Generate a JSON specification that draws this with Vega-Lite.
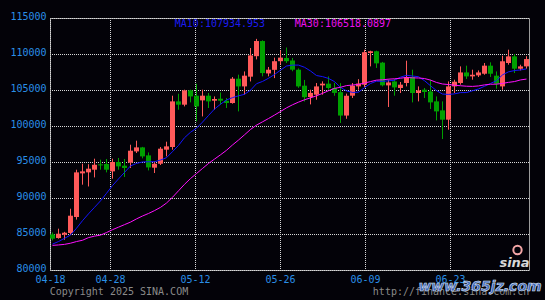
{
  "$schema": "https://vega.github.io/schema/vega-lite/v6.json",
  "width": 479,
  "height": 252,
  "autosize": {"type": "none"},
  "padding": {"left": 50, "top": 18, "right": 16, "bottom": 30},
  "background": "#030208",
  "config": {
    "view": {"stroke": "#9c9c9c", "strokeWidth": 1},
    "scale": {"continuousPadding": 0},
    "axis": {
      "domain": false, "ticks": false, "tickSize": 0, "grid": true,
      "gridColor": "#d8d8d8", "gridDash": [1, 1], "gridDashOffset": 0.5, "gridWidth": 1, "gridOpacity": 1,
      "labelColor": "#2a8fe6", "labelFont": "DejaVu Sans Mono", "labelFontSize": 10,
      "labelFlush": false, "labelOverlap": false, "labelBound": false
    }
  },
  "data": {"values": [
    {"d":"2025/04/18","o":84950,"h":85220,"l":84110,"c":84350,"m10":83600,"m30":83420},
    {"d":"2025/04/19","o":84440,"h":85740,"l":84350,"c":85040,"m10":83950,"m30":83480},
    {"d":"2025/04/20","o":84900,"h":85300,"l":84200,"c":85180,"m10":84400,"m30":83560},
    {"d":"2025/04/21","o":85140,"h":88510,"l":84900,"c":87540,"m10":84850,"m30":83720},
    {"d":"2025/04/22","o":87360,"h":93930,"l":87000,"c":93560,"m10":85800,"m30":83950},
    {"d":"2025/04/23","o":93420,"h":94760,"l":91850,"c":93700,"m10":86850,"m30":84130},
    {"d":"2025/04/24","o":93560,"h":94700,"l":91600,"c":94070,"m10":87800,"m30":84500},
    {"d":"2025/04/25","o":93930,"h":95460,"l":92860,"c":94620,"m10":88700,"m30":84700},
    {"d":"2025/04/26","o":94670,"h":95320,"l":93930,"c":94530,"m10":89600,"m30":84850},
    {"d":"2025/04/27","o":94720,"h":95420,"l":93560,"c":93930,"m10":90652,"m30":85200},
    {"d":"2025/04/28","o":93700,"h":95460,"l":92680,"c":95000,"m10":91717,"m30":85600},
    {"d":"2025/04/29","o":95000,"h":95560,"l":93930,"c":94390,"m10":92652,"m30":85950},
    {"d":"2025/04/30","o":94490,"h":95420,"l":92920,"c":94170,"m10":93551,"m30":86300},
    {"d":"2025/05/01","o":94900,"h":97400,"l":94170,"c":96570,"m10":94454,"m30":86650},
    {"d":"2025/05/02","o":96470,"h":97960,"l":96250,"c":97030,"m10":94801,"m30":87100},
    {"d":"2025/05/03","o":97030,"h":97100,"l":95500,"c":95780,"m10":95009,"m30":87500},
    {"d":"2025/05/04","o":95920,"h":96330,"l":93830,"c":94250,"m10":95027,"m30":87850},
    {"d":"2025/05/05","o":94210,"h":95080,"l":93470,"c":94760,"m10":95041,"m30":88250},
    {"d":"2025/05/06","o":94760,"h":97080,"l":94580,"c":96850,"m10":95273,"m30":88700},
    {"d":"2025/05/07","o":96710,"h":97820,"l":95780,"c":97170,"m10":95597,"m30":89300},
    {"d":"2025/05/08","o":97080,"h":104210,"l":96710,"c":103420,"m10":96439,"m30":90100},
    {"d":"2025/05/09","o":103420,"h":104490,"l":102260,"c":102960,"m10":97296,"m30":91000},
    {"d":"2025/05/10","o":102960,"h":105040,"l":102720,"c":104950,"m10":98374,"m30":91900},
    {"d":"2025/05/11","o":104950,"h":105040,"l":103280,"c":104110,"m10":99128,"m30":92700},
    {"d":"2025/05/12","o":104210,"h":105870,"l":100640,"c":102720,"m10":99697,"m30":93400},
    {"d":"2025/05/13","o":103560,"h":105040,"l":101330,"c":104210,"m10":100540,"m30":94100},
    {"d":"2025/05/14","o":104210,"h":104580,"l":102500,"c":103420,"m10":101457,"m30":94800},
    {"d":"2025/05/15","o":103510,"h":104110,"l":102260,"c":103750,"m10":102356,"m30":95400},
    {"d":"2025/05/16","o":103790,"h":104670,"l":102960,"c":103510,"m10":103022,"m30":96000},
    {"d":"2025/05/17","o":103510,"h":103890,"l":102500,"c":103190,"m10":103624,"m30":96624},
    {"d":"2025/05/18","o":103190,"h":106800,"l":103100,"c":106570,"m10":103939,"m30":97365},
    {"d":"2025/05/19","o":106570,"h":107130,"l":102030,"c":105500,"m10":104193,"m30":98047},
    {"d":"2025/05/20","o":105500,"h":107580,"l":104350,"c":106990,"m10":104397,"m30":98774},
    {"d":"2025/05/21","o":106850,"h":110830,"l":106190,"c":109800,"m10":104966,"m30":99516},
    {"d":"2025/05/22","o":109700,"h":112100,"l":109250,"c":111800,"m10":105874,"m30":100124},
    {"d":"2025/05/23","o":111800,"h":111900,"l":106900,"c":107350,"m10":106188,"m30":100579},
    {"d":"2025/05/24","o":107300,"h":108200,"l":106900,"c":107820,"m10":106628,"m30":101037},
    {"d":"2025/05/25","o":107800,"h":109500,"l":106650,"c":109000,"m10":107153,"m30":101517},
    {"d":"2025/05/26","o":109000,"h":110500,"l":108550,"c":109500,"m10":107752,"m30":102016},
    {"d":"2025/05/27","o":109450,"h":110900,"l":108750,"c":109000,"m10":108333,"m30":102518},
    {"d":"2025/05/28","o":109100,"h":109450,"l":107600,"c":107820,"m10":108458,"m30":102945},
    {"d":"2025/05/29","o":107820,"h":108000,"l":105300,"c":105500,"m10":108458,"m30":103316},
    {"d":"2025/05/30","o":105600,"h":106400,"l":103400,"c":104000,"m10":108159,"m30":103643},
    {"d":"2025/05/31","o":104030,"h":105040,"l":103000,"c":104600,"m10":107639,"m30":103911},
    {"d":"2025/06/01","o":104350,"h":105970,"l":103650,"c":105500,"m10":107009,"m30":104193},
    {"d":"2025/06/02","o":105640,"h":106200,"l":104350,"c":105880,"m10":106862,"m30":104530},
    {"d":"2025/06/03","o":105880,"h":106890,"l":105040,"c":105280,"m10":106608,"m30":104898},
    {"d":"2025/06/04","o":105280,"h":106000,"l":104200,"c":104600,"m10":106168,"m30":105226},
    {"d":"2025/06/05","o":104700,"h":105950,"l":100420,"c":101450,"m10":105363,"m30":105379},
    {"d":"2025/06/06","o":101450,"h":104500,"l":101000,"c":104200,"m10":104883,"m30":105613},
    {"d":"2025/06/07","o":104210,"h":105970,"l":103890,"c":105600,"m10":104661,"m30":105686},
    {"d":"2025/06/08","o":105500,"h":106500,"l":105040,"c":105900,"m10":104701,"m30":105784},
    {"d":"2025/06/09","o":105740,"h":110600,"l":105400,"c":110250,"m10":105326,"m30":105961},
    {"d":"2025/06/10","o":110140,"h":110460,"l":108280,"c":110380,"m10":105904,"m30":106170},
    {"d":"2025/06/11","o":110380,"h":110460,"l":108060,"c":108700,"m10":106224,"m30":106369},
    {"d":"2025/06/12","o":108800,"h":108900,"l":105500,"c":105650,"m10":106201,"m30":106417},
    {"d":"2025/06/13","o":105640,"h":106430,"l":102640,"c":106050,"m10":106278,"m30":106505},
    {"d":"2025/06/14","o":106190,"h":106530,"l":104210,"c":105360,"m10":106354,"m30":106558},
    {"d":"2025/06/15","o":105280,"h":106110,"l":104580,"c":105740,"m10":106783,"m30":106633},
    {"d":"2025/06/16","o":105970,"h":109070,"l":105500,"c":106800,"m10":107043,"m30":106753},
    {"d":"2025/06/17","o":106800,"h":107820,"l":103280,"c":104580,"m10":106941,"m30":106687},
    {"d":"2025/06/18","o":104580,"h":105500,"l":103420,"c":104940,"m10":106845,"m30":106668},
    {"d":"2025/06/19","o":105040,"h":105280,"l":103890,"c":104720,"m10":106292,"m30":106592},
    {"d":"2025/06/20","o":104800,"h":106430,"l":102360,"c":103280,"m10":105582,"m30":106375},
    {"d":"2025/06/21","o":103420,"h":104110,"l":100780,"c":102030,"m10":104915,"m30":106049},
    {"d":"2025/06/22","o":102170,"h":103420,"l":98190,"c":100880,"m10":104440,"m30":105834},
    {"d":"2025/06/23","o":100880,"h":106190,"l":99490,"c":105500,"m10":104385,"m30":105757},
    {"d":"2025/06/24","o":105500,"h":106430,"l":104580,"c":106150,"m10":104464,"m30":105662},
    {"d":"2025/06/25","o":105970,"h":108280,"l":105740,"c":107440,"m10":104634,"m30":105593},
    {"d":"2025/06/26","o":107440,"h":108380,"l":106530,"c":106890,"m10":104643,"m30":105523},
    {"d":"2025/06/27","o":106890,"h":107820,"l":106430,"c":107120,"m10":104897,"m30":105500},
    {"d":"2025/06/28","o":107030,"h":107720,"l":106800,"c":107440,"m10":105147,"m30":105564},
    {"d":"2025/06/29","o":107260,"h":108750,"l":107120,"c":108380,"m10":105513,"m30":105710},
    {"d":"2025/06/30","o":108380,"h":108840,"l":106810,"c":107260,"m10":105911,"m30":105799},
    {"d":"2025/07/01","o":106990,"h":107580,"l":105180,"c":105880,"m10":106296,"m30":105812},
    {"d":"2025/07/02","o":105500,"h":109760,"l":105040,"c":108990,"m10":107105,"m30":105915},
    {"d":"2025/07/03","o":108750,"h":110600,"l":108510,"c":109670,"m10":107522,"m30":106062},
    {"d":"2025/07/04","o":109670,"h":109990,"l":107360,"c":107960,"m10":107703,"m30":106174},
    {"d":"2025/07/05","o":107960,"h":108510,"l":107720,"c":108280,"m10":107787,"m30":106401},
    {"d":"2025/07/06","o":108280,"h":109700,"l":107950,"c":109300,"m10":107935,"m30":106518}
  ]},
  "layer": [
    {
      "encoding": {
        "x": {"field": "d", "type": "temporal", "title": null,
          "scale": {"domain": [{"year":2025,"month":4,"date":17,"hours":14},{"year":2025,"month":7,"date":6,"hours":10}], "padding": 0},
          "axis": {
            "values": [
              {"year":2025,"month":4,"date":17,"hours":14},
              {"year":2025,"month":4,"date":27,"hours":14},
              {"year":2025,"month":5,"date":11,"hours":18},
              {"year":2025,"month":5,"date":25,"hours":22},
              {"year":2025,"month":6,"date":9,"hours":2},
              {"year":2025,"month":6,"date":23,"hours":6}
            ],
            "labelExpr": "timeFormat(toNumber(datum.value) + 43200000, '%m-%d')",
            "labelPadding": 12.5, "labelBaseline": "alphabetic", "labelAlign": "center"
          }}
      },
      "layer": [
        {
          "mark": {"type": "rule", "strokeWidth": 1},
          "encoding": {
            "y": {"field": "l", "type": "quantitative", "title": null,
              "scale": {"domain": [80000, 115000], "zero": false, "nice": false, "padding": 0},
              "axis": {"values": [80000, 85000, 90000, 95000, 100000, 105000, 110000, 115000], "format": "d", "labelPadding": 4, "labelBaseline": "alphabetic", "labelOffset": 1.5}},
            "y2": {"field": "h"},
            "color": {"condition": {"test": "datum.c >= datum.o", "value": "#ff5a5a"}, "value": "#00a000"}
          }
        },
        {
          "mark": {"type": "bar", "width": 5},
          "encoding": {
            "y": {"field": "o", "type": "quantitative", "title": null,
              "scale": {"domain": [80000, 115000], "zero": false, "nice": false, "padding": 0},
              "axis": {"values": [80000, 85000, 90000, 95000, 100000, 105000, 110000, 115000], "format": "d", "labelPadding": 4, "labelBaseline": "alphabetic", "labelOffset": 1.5}},
            "y2": {"field": "c"},
            "color": {"condition": {"test": "datum.c >= datum.o", "value": "#ff5a5a"}, "value": "#00a000"}
          }
        },
        {
          "mark": {"type": "line", "color": "#1414ff", "strokeWidth": 1},
          "encoding": {
            "y": {"field": "m10", "type": "quantitative", "title": null,
              "scale": {"domain": [80000, 115000], "zero": false, "nice": false, "padding": 0},
              "axis": {"values": [80000, 85000, 90000, 95000, 100000, 105000, 110000, 115000], "format": "d", "labelPadding": 4, "labelBaseline": "alphabetic", "labelOffset": 1.5}}
          }
        },
        {
          "mark": {"type": "line", "color": "#ff10ff", "strokeWidth": 1},
          "encoding": {
            "y": {"field": "m30", "type": "quantitative", "title": null,
              "scale": {"domain": [80000, 115000], "zero": false, "nice": false, "padding": 0},
              "axis": {"values": [80000, 85000, 90000, 95000, 100000, 105000, 110000, 115000], "format": "d", "labelPadding": 4, "labelBaseline": "alphabetic", "labelOffset": 1.5}}
          }
        }
      ]
    },
    {
      "data": {"values": [{}]},
      "encoding": {
        "x": {"datum": {"year":2025,"month":5,"date":8,"hours":9,"minutes":12}, "type": "temporal", "axis": null,
          "scale": {"domain": [{"year":2025,"month":4,"date":17,"hours":14},{"year":2025,"month":7,"date":6,"hours":10}], "padding": 0}},
        "y": {"datum": 113792, "type": "quantitative", "axis": null,
          "scale": {"domain": [80000, 115000], "zero": false, "nice": false, "padding": 0}}
      },
      "layer": [
        {
          "mark": {"type": "text", "text": "MA10:107934.953", "align": "left", "baseline": "alphabetic", "font": "DejaVu Sans Mono", "fontSize": 10, "color": "#1c1cf0"}
        },
        {
          "mark": {"type": "text", "text": "MA30:106518.0897", "align": "left", "baseline": "alphabetic", "font": "DejaVu Sans Mono", "fontSize": 10, "color": "#ee10ee"},
          "encoding": {
            "x": {"datum": {"year":2025,"month":5,"date":28,"hours":9,"minutes":12}, "type": "temporal", "axis": null}
          }
        },
        {
          "mark": {"type": "text", "text": "Copyright 2025 SINA.COM", "align": "left", "baseline": "alphabetic", "font": "DejaVu Sans Mono", "fontSize": 10, "color": "#8a8a8a"},
          "encoding": {
            "x": {"datum": {"year":2025,"month":4,"date":17,"hours":12,"minutes":48}, "type": "temporal", "axis": null},
            "y": {"datum": 76597, "type": "quantitative", "axis": null}
          }
        },
        {
          "mark": {"type": "text", "text": "http://finance.sina.com.cn", "align": "right", "baseline": "alphabetic", "font": "DejaVu Sans Mono", "fontSize": 10, "color": "#8a8a8a"},
          "encoding": {
            "x": {"datum": {"year":2025,"month":7,"date":6,"hours":11,"minutes":32}, "type": "temporal", "axis": null},
            "y": {"datum": 76597, "type": "quantitative", "axis": null}
          }
        },
        {
          "mark": {"type": "text", "text": "www.365jz.com", "align": "center", "baseline": "alphabetic", "font": "DejaVu Sans", "fontSize": 14, "fontWeight": "bold", "fontStyle": "italic", "fill": "#3f66b8", "stroke": "#dfe6f7", "strokeWidth": 0.6},
          "encoding": {
            "x": {"datum": {"year":2025,"month":6,"date":28,"hours":6}, "type": "temporal", "axis": null},
            "y": {"datum": 77014, "type": "quantitative", "axis": null}
          }
        },
        {
          "mark": {"type": "text", "text": "sina", "align": "center", "baseline": "alphabetic", "font": "DejaVu Sans", "fontSize": 13, "fontWeight": "bold", "fontStyle": "italic", "color": "#d8d8d8"},
          "encoding": {
            "x": {"datum": {"year":2025,"month":7,"date":4,"hours":0}, "type": "temporal", "axis": null},
            "y": {"datum": 80486, "type": "quantitative", "axis": null}
          }
        },
        {
          "mark": {"type": "point", "shape": "circle", "filled": false, "size": 70, "stroke": "#f4a6a6", "strokeWidth": 2, "opacity": 1},
          "encoding": {
            "x": {"datum": {"year":2025,"month":7,"date":4,"hours":12}, "type": "temporal", "axis": null},
            "y": {"datum": 82778, "type": "quantitative", "axis": null}
          }
        }
      ]
    }
  ],
  "resolve": {"scale": {"x": "independent", "y": "independent"}, "axis": {"x": "independent", "y": "independent"}}
}
